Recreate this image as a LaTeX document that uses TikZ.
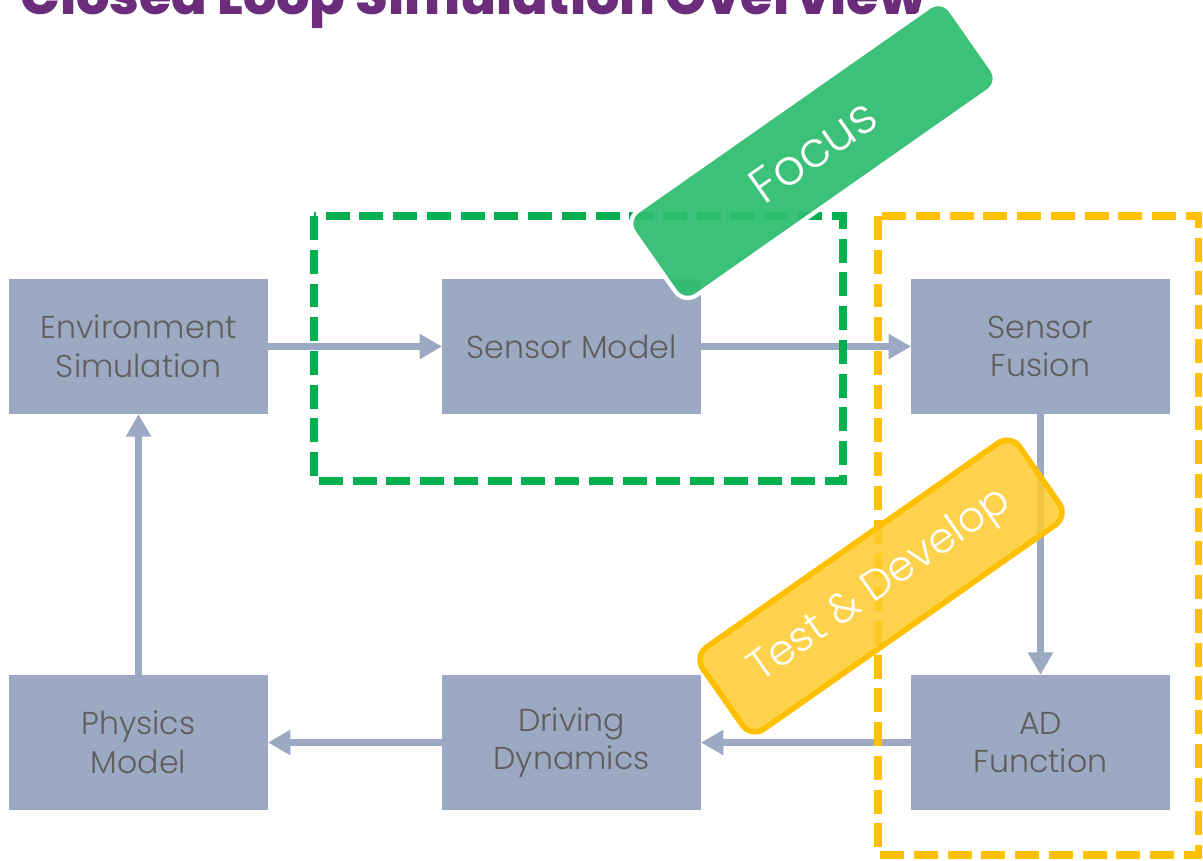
\documentclass[tikz,border=0pt]{standalone}
\usepackage{fontspec}
\setmainfont{Poppins}
\newfontfamily\lightfont{Poppins Light}
\newfontfamily\heavyfont{Poppins ExtraBold}
\usetikzlibrary{arrows.meta}
\definecolor{boxblue}{HTML}{9CA9C3}
\definecolor{txtgray}{HTML}{5E5E5E}
\definecolor{ttl}{HTML}{6A2C7B}
\definecolor{dgreen}{HTML}{00B050}
\definecolor{dyellow}{HTML}{FFC000}
\definecolor{tgreen}{HTML}{2EBD6F}
\definecolor{tyellow}{HTML}{FFCB2E}
\begin{document}
\begin{tikzpicture}[x=0.025cm,y=-0.025cm,
  blk/.style={fill=boxblue, minimum width=183.6pt, minimum height=95.7pt, text=txtgray,
    font=\lightfont\fontsize{22.5}{27.5}\selectfont, align=center, inner sep=0pt},
  flow/.style={draw=boxblue, line width=5.6pt, -{Triangle[length=16pt,width=17pt]}},
  dbox/.style={line width=5pt, dash pattern=on 17pt off 7pt},
  tag/.style={rotate=35, rounded corners=11pt, text=white, inner sep=0pt, text opacity=1}]
\useasboundingbox (0,0) rectangle (1203,861);
\clip (0,0) rectangle (1203,861);
\fill[white] (0,0) rectangle (1203,861);
\node[anchor=base west, text=ttl, font=\heavyfont\fontsize{37.3}{37.3}\selectfont, inner sep=0pt] (title) at (20,14) {Closed Loop Simulation Overview};
\node[blk] (env) at (138.5,346.5) {Environment\\Simulation};
\node[blk] (sm) at (571.5,346.5) {Sensor Model};
\node[blk] (sf) at (1040.5,346.5) {Sensor\\Fusion};
\node[blk] (pm) at (138.5,742.5) {Physics\\Model};
\node[blk] (dd) at (571.5,742.5) {Driving\\Dynamics};
\node[blk] (ad) at (1040.5,742.5) {AD\\Function};
\draw[flow] (env) -- (sm);
\draw[flow] (sm) -- (sf);
\draw[flow] (sf) -- (ad);
\draw[flow] (ad) -- (dd);
\draw[flow] (dd) -- (pm);
\draw[flow] (pm) -- (env);
\draw[dbox, draw=dgreen] (314,216) rectangle (843,481);
\draw[dbox, draw=dyellow] (878,216) rectangle (1198,855);
\node[tag, fill=tgreen, fill opacity=0.93, draw=white, line width=3pt, minimum width=275pt, minimum height=73pt,
  font=\lightfont\fontsize{35}{35}\selectfont] (focus) at (813,151) {Focus};
\node[tag, fill=tyellow, fill opacity=0.85, draw=dyellow, line width=4pt, minimum width=275pt, minimum height=71pt,
  font=\lightfont\fontsize{30}{30}\selectfont] (test) at (881,586) {Test \& Develop};
\end{tikzpicture}
\end{document}
